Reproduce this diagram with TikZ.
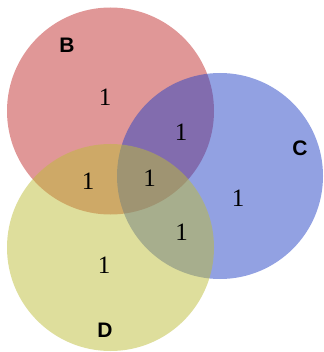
\documentclass[tikz,border=0pt]{standalone}
\usepackage{fontspec}
\newfontfamily\labelfont{Liberation Sans}
\newfontfamily\countfont{Liberation Serif}
\definecolor{setB}{RGB}{193,47,47}
\definecolor{setC}{RGB}{37,67,197}
\definecolor{setD}{RGB}{189,189,57}
\begin{document}
\begin{tikzpicture}[x=1pt,y=-1pt,
  setcircle/.style={fill opacity=0.5,draw opacity=0.25,line width=0.6pt},
  setname/.style={font=\labelfont\bfseries\fontsize{21}{21}\selectfont,text=black},
  count/.style={font=\countfont\fontsize{25}{25}\selectfont,text=black}]
\useasboundingbox (0,0) rectangle (323,352);
% the three sets, drawn in order so later fills blend over earlier ones
\fill[setB,setcircle] (110.5,111) circle (103.5);
\fill[setC,setcircle] (220,176) circle (103);
\fill[setD,setcircle] (110.5,247.5) circle (103.5);
% set names
\node[setname] (nB) at (67,45) {B};
\node[setname] (nC) at (300,148) {C};
\node[setname] (nD) at (105,330) {D};
% region counts
\node[count] (rB)   at (105,97)  {1};
\node[count] (rBC)  at (181,132) {1};
\node[count] (rBD)  at (88,181)  {1};
\node[count] (rBCD) at (149.5,178) {1};
\node[count] (rC)   at (238,198) {1};
\node[count] (rCD)  at (181.5,232) {1};
\node[count] (rD)   at (104,265) {1};
\end{tikzpicture}
\end{document}
